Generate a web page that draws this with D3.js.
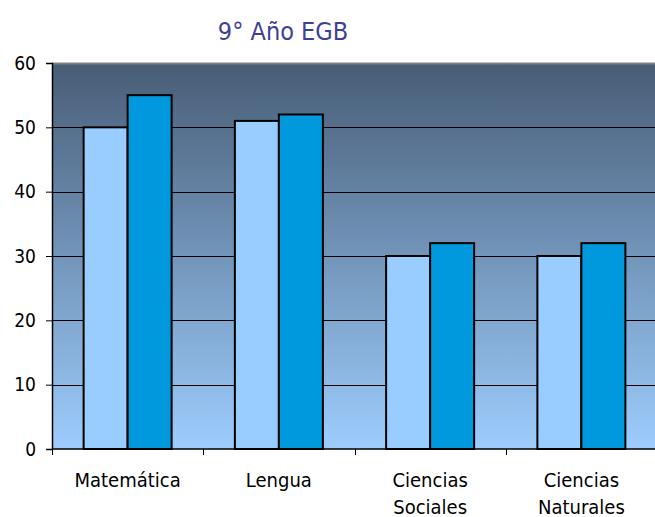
<!DOCTYPE html>
<html><head><meta charset="utf-8">
<script src="https://cdn.jsdelivr.net/npm/d3@7"></script>
<style>body{margin:0;background:#fff}svg{display:block}</style>
</head><body>
<script>
const categories = [["Matemática"], ["Lengua"], ["Ciencias", "Sociales"], ["Ciencias", "Naturales"]];
const seriesA = [50, 51, 30, 30];
const seriesB = [55, 52, 32, 32];
const yTicks = [0, 10, 20, 30, 40, 50, 60];
const title = "9° Año EGB";

const W = 655, H = 517;
const m = {left: 52, top: 63, right: -2, bottom: 68};
const svg = d3.select("body").append("svg").attr("width", W).attr("height", H);
const font = "'DejaVu Sans Condensed', 'DejaVu Sans', Verdana, sans-serif";

const x = d3.scaleBand().domain(d3.range(categories.length)).range([m.left, W - m.right]);
const y = d3.scaleLinear().domain([0, 60]).range([H - m.bottom, m.top]);

const defs = svg.append("defs");
const g = defs.append("linearGradient").attr("id", "bg").attr("x1", 0).attr("y1", 0).attr("x2", 0).attr("y2", 1);
g.append("stop").attr("offset", "0%").attr("stop-color", "#485d76");
g.append("stop").attr("offset", "100%").attr("stop-color", "#9dcdfd");

svg.append("rect").attr("x", m.left).attr("y", m.top).attr("width", W - m.right - m.left)
  .attr("height", y(0) - m.top).attr("fill", "url(#bg)");
svg.append("line").attr("x1", m.left).attr("x2", W).attr("y1", m.top + 0.5).attr("y2", m.top + 0.5)
  .attr("stroke", "#808080").attr("stroke-width", 2);

// gridlines
svg.append("g").selectAll("line").data(yTicks.filter(d => d > 0 && d < 60)).join("line")
  .attr("x1", m.left).attr("x2", W).attr("y1", d => Math.round(y(d)) + 0.5).attr("y2", d => Math.round(y(d)) + 0.5)
  .attr("stroke", "#000").attr("stroke-width", 1);

const bw = 44;
const bars = svg.append("g");
categories.forEach((c, i) => {
  const cx = x(i) + x.bandwidth() / 2;
  bars.append("rect").attr("x", cx - bw).attr("y", y(seriesA[i])).attr("width", bw)
    .attr("height", y(0) - y(seriesA[i])).attr("fill", "#99ccff").attr("stroke", "#000").attr("stroke-width", 2);
  bars.append("rect").attr("x", cx).attr("y", y(seriesB[i])).attr("width", bw)
    .attr("height", y(0) - y(seriesB[i])).attr("fill", "#0099dd").attr("stroke", "#000").attr("stroke-width", 2);
});

// y axis
const ya = svg.append("g").attr("transform", `translate(${m.left},0)`)
  .call(d3.axisLeft(y).tickValues(yTicks).tickSize(6).tickPadding(10));
ya.select(".domain").attr("stroke", "#000").attr("stroke-width", 1.5);
ya.selectAll(".tick line").attr("stroke", "#000");
ya.selectAll("text").attr("font-family", font).attr("font-size", 19).attr("fill", "#000");

// x axis
svg.append("line").attr("x1", m.left).attr("x2", W).attr("y1", y(0)).attr("y2", y(0)).attr("stroke", "#000").attr("stroke-width", 1.5);
svg.append("g").selectAll("line").data(d3.range(categories.length + 1)).join("line")
  .attr("x1", d => Math.round(m.left + d * x.bandwidth()) + 0.5).attr("x2", d => Math.round(m.left + d * x.bandwidth()) + 0.5)
  .attr("y1", y(0)).attr("y2", y(0) + 6).attr("stroke", "#000");
categories.forEach((c, i) => {
  const t = svg.append("text").attr("x", x(i) + x.bandwidth() / 2).attr("y", 487)
    .attr("text-anchor", "middle").attr("font-family", font).attr("font-size", 20).attr("fill", "#000");
  c.forEach((line, j) => t.append("tspan").attr("x", x(i) + x.bandwidth() / 2).attr("dy", j ? 27 : 0).text(line));
});

svg.append("text").attr("x", 283).attr("y", 40).attr("text-anchor", "middle")
  .attr("font-family", font).attr("font-size", 25).attr("fill", "#3f3f98").text(title);
</script>
</body></html>
